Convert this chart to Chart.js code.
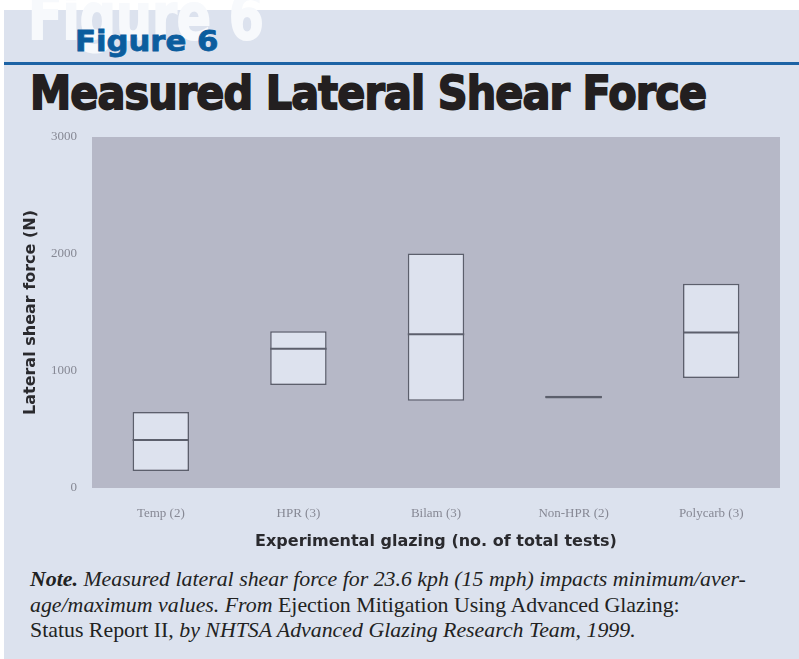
<!DOCTYPE html>
<html>
<head>
<meta charset="utf-8">
<script src="https://cdn.jsdelivr.net/npm/chart.js@4.4.1/dist/chart.umd.min.js"></script>
<style>
  html, body { margin: 0; padding: 0; background: #ffffff; }
  #page { position: relative; width: 799px; height: 659px; overflow: hidden; background: #ffffff; }
  #panel { position: absolute; left: 4px; top: 10px; right: 0; bottom: 0; background: #dce2ee; }
  .txt { position: absolute; white-space: nowrap; transform-origin: 0 0; }
  #ghost { left: 28px; top: -20px; font: bold 64px "DejaVu Sans", sans-serif; color: #f7f9fc; -webkit-text-stroke: 2px #f7f9fc; }
  #fig { left: 75px; top: 24px; font: bold 29px "DejaVu Sans", sans-serif; color: #0b5d9e; -webkit-text-stroke: 0.8px #0b5d9e; }
  #rule { position: absolute; left: 4px; right: 0; top: 62px; height: 3px; background: #1c63a5; }
  #title { left: 30px; top: 66px; font: bold 46px "DejaVu Sans", sans-serif; color: #231f20; letter-spacing: -1px; -webkit-text-stroke: 1.8px #231f20; }
  #note { left: 30px; top: 566px; font: italic 22px "Liberation Serif", serif; color: #222; line-height: 25.5px; }
  #note b { font-weight: bold; }
  #note span { font-style: normal; }
  #chartBox { position: absolute; left: 0; top: 100px; width: 799px; height: 460px; }
</style>
</head>
<body>
<div id="page">
  <div id="panel"></div>
  <div id="ghost" class="txt">Figure 6</div>
  <div id="fig" class="txt">Figure 6</div>
  <div id="rule"></div>
  <div id="title" class="txt">Measured Lateral Shear Force</div>
  <div id="chartBox"><canvas id="chart"></canvas></div>
  <div id="note" class="txt"><b>Note.</b> Measured lateral shear force for 23.6 kph (15 mph) impacts minimum/aver-<br>age/maximum values. From <span>Ejection Mitigation Using Advanced Glazing:<br>Status Report II,</span> by NHTSA Advanced Glazing Research Team, 1999.</div>
</div>
<script>
var glazing = ['Temp (2)', 'HPR (3)', 'Bilam (3)', 'Non-HPR (2)', 'Polycarb (3)'];
var minForce = [145, 880, 745, 765, 940];
var maxForce = [650, 1340, 2005, 789, 1745];
var avgForce = [410, 1190, 1315, 777, 1330];
var yTicks = [0, 1000, 2000, 3000];

// squeeze header text to the widths in the picture
function fitWidth( id, w )
{
    var el = document.getElementById( id );
    var s = w / el.offsetWidth;
    el.style.transform = 'scaleX(' + s + ')';
}
fitWidth( 'title', 676 );
fitWidth( 'fig', 143 );
fitWidth( 'ghost', 236 );
fitWidth( 'note', 716 );

var plotBg = {
    id: 'plotBg',
    beforeDatasetsDraw: function( chart ) {
        var a = chart.chartArea, ctx = chart.ctx;
        ctx.save();
        ctx.fillStyle = '#b6b8c7';
        ctx.fillRect( a.left, a.top, a.right - a.left, a.bottom - a.top );
        ctx.restore();
    }
};

// average marks drawn across each box
var avgLines = {
    id: 'avgLines',
    afterDatasetsDraw: function( chart ) {
        var meta = chart.getDatasetMeta( 0 ), y = chart.scales.y, ctx = chart.ctx;
        ctx.save();
        ctx.strokeStyle = '#5c5f6c';
        ctx.lineWidth = 2;
        meta.data.forEach( function( bar, i ) {
            var py = y.getPixelForValue( avgForce[i] );
            ctx.beginPath();
            ctx.moveTo( bar.x - bar.width / 2, py );
            ctx.lineTo( bar.x + bar.width / 2, py );
            ctx.stroke();
        } );
        ctx.restore();
    }
};

var ranges = [];
for ( var i = 0; i < glazing.length; i++ ) ranges.push( [minForce[i], maxForce[i]] );

var tickFont = { family: 'Liberation Serif', size: 13 };

new Chart( document.getElementById( 'chart' ).getContext( '2d' ), {
    type: 'bar',
    data: {
        labels: glazing,
        datasets: [
            {
                data: ranges,
                backgroundColor: '#dde2ee',
                borderColor: '#5c5f6c',
                borderWidth: 1.5,
                borderSkipped: false,
                barPercentage: 0.41,
                categoryPercentage: 1
            }
        ]
    },
    options: {
        responsive: true,
        maintainAspectRatio: false,
        animation: false,
        layout: { padding: { left: 0, right: 19, top: 37, bottom: 0 } },
        plugins: { legend: { display: false }, tooltip: { enabled: false } },
        scales: {
            x: {
                grid: { display: false },
                border: { display: false },
                ticks: { color: '#868894', font: tickFont, padding: 10 },
                title: {
                    display: true,
                    text: 'Experimental glazing (no. of total tests)',
                    color: '#2a2a2e',
                    font: { family: 'DejaVu Sans', size: 16, weight: 'bold' },
                    padding: { top: 0, bottom: 9 }
                },
                afterFit: function( s ) { s.height = 72; }
            },
            y: {
                min: 0,
                max: 3000,
                afterBuildTicks: function( s ) { s.ticks = yTicks.map( function( v ) { return { value: v }; } ); },
                grid: { display: false },
                border: { display: false },
                ticks: { color: '#868894', font: tickFont, padding: 7, callback: function( v ) { return String( v ); } },
                title: {
                    display: true,
                    text: 'Lateral shear force (N)',
                    color: '#2a2a2e',
                    font: { family: 'DejaVu Sans', size: 16, weight: 'bold' },
                    padding: { top: 21, bottom: 0 }
                },
                afterFit: function( s ) { s.width = 92; }
            }
        }
    },
    plugins: [plotBg, avgLines]
});
</script>
</body>
</html>
